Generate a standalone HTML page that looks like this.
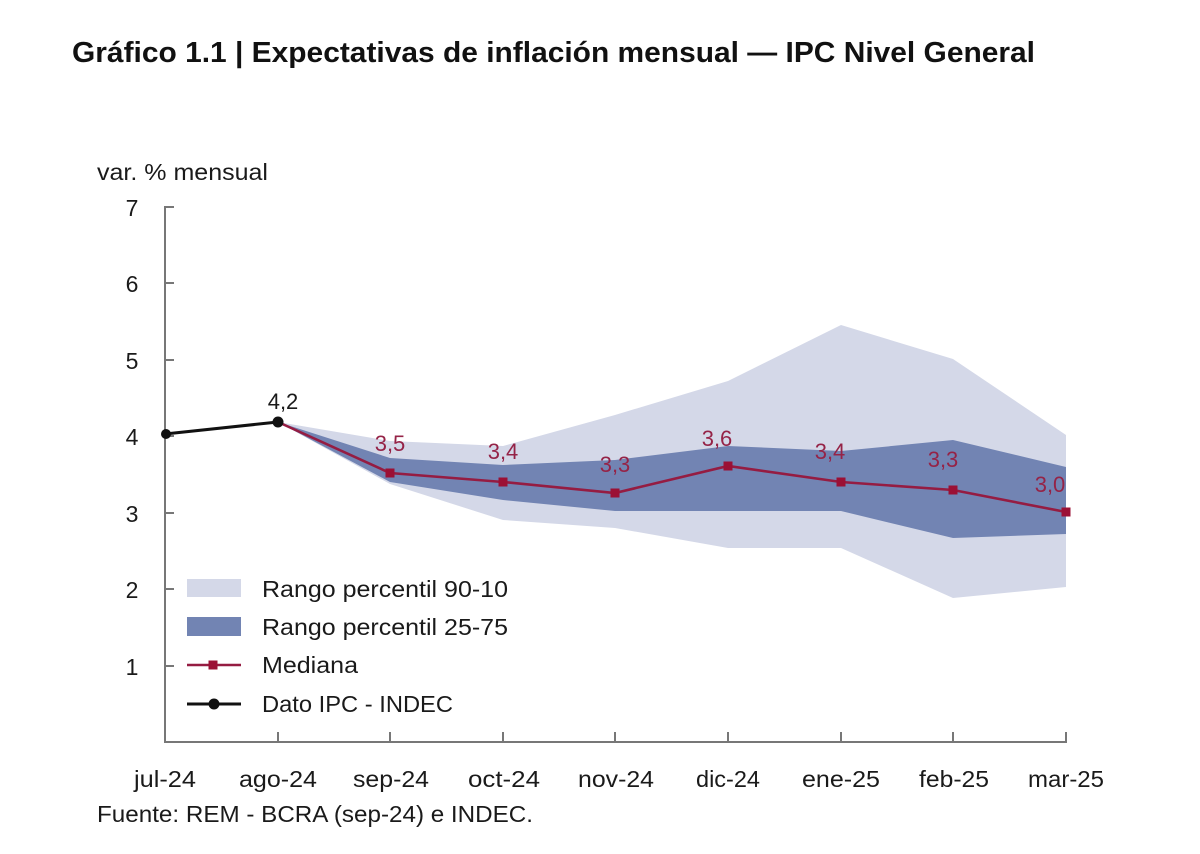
<!DOCTYPE html>
<html>
<head>
<meta charset="utf-8">
<style>
html,body{margin:0;padding:0;background:#fff;}
svg{display:block;}
text{font-family:"Liberation Sans",Arial,sans-serif;}
</style>
</head>
<body>
<svg width="1200" height="854" viewBox="0 0 1200 854" xmlns="http://www.w3.org/2000/svg">
<rect width="1200" height="854" fill="#fff"/>
<text x="72" y="62" font-size="29" font-weight="bold" fill="#111" textLength="963" lengthAdjust="spacingAndGlyphs">Gráfico 1.1 | Expectativas de inflación mensual — IPC Nivel General</text>

<text x="97" y="180" font-size="23" fill="#1a1a1a" textLength="171" lengthAdjust="spacingAndGlyphs">var. % mensual</text>

<!-- bands -->
<polygon fill="#d4d8e8" points="278,422 390,441 503,446 615,415 728,381 841,325 953,359 1066,435 1066,587 953,598 841,548 728,548 615,528 503,520 390,484"/>
<polygon fill="#7284b3" points="278,422 390,458 503,465 615,460 728,446 841,451 953,440 1066,467 1066,534 953,538 841,511 728,511 615,511 503,500 390,482"/>

<!-- axes -->
<g stroke="#777" stroke-width="2" fill="none">
<line x1="165" y1="206" x2="165" y2="743"/>
<line x1="164" y1="742" x2="1067" y2="742"/>
<line x1="165" y1="207" x2="174" y2="207"/>
<line x1="165" y1="283" x2="174" y2="283"/>
<line x1="165" y1="360" x2="174" y2="360"/>
<line x1="165" y1="436" x2="174" y2="436"/>
<line x1="165" y1="513" x2="174" y2="513"/>
<line x1="165" y1="589" x2="174" y2="589"/>
<line x1="165" y1="666" x2="174" y2="666"/>
<line x1="278" y1="742" x2="278" y2="732"/>
<line x1="390" y1="742" x2="390" y2="732"/>
<line x1="503" y1="742" x2="503" y2="732"/>
<line x1="615" y1="742" x2="615" y2="732"/>
<line x1="728" y1="742" x2="728" y2="732"/>
<line x1="841" y1="742" x2="841" y2="732"/>
<line x1="953" y1="742" x2="953" y2="732"/>
<line x1="1066" y1="742" x2="1066" y2="732"/>
</g>

<!-- y labels -->
<g font-size="23" fill="#1a1a1a" text-anchor="middle">
<text x="132" y="216">7</text>
<text x="132" y="292">6</text>
<text x="132" y="369">5</text>
<text x="132" y="445">4</text>
<text x="132" y="522">3</text>
<text x="132" y="598">2</text>
<text x="132" y="675">1</text>
</g>

<!-- x labels -->
<g font-size="23" fill="#1a1a1a" text-anchor="middle">
<text x="165" y="787" textLength="62" lengthAdjust="spacingAndGlyphs">jul-24</text>
<text x="278" y="787" textLength="78" lengthAdjust="spacingAndGlyphs">ago-24</text>
<text x="391" y="787" textLength="76" lengthAdjust="spacingAndGlyphs">sep-24</text>
<text x="504" y="787" textLength="72" lengthAdjust="spacingAndGlyphs">oct-24</text>
<text x="616" y="787" textLength="76" lengthAdjust="spacingAndGlyphs">nov-24</text>
<text x="728" y="787" textLength="64" lengthAdjust="spacingAndGlyphs">dic-24</text>
<text x="841" y="787" textLength="78" lengthAdjust="spacingAndGlyphs">ene-25</text>
<text x="954" y="787" textLength="70" lengthAdjust="spacingAndGlyphs">feb-25</text>
<text x="1066" y="787" textLength="76" lengthAdjust="spacingAndGlyphs">mar-25</text>
</g>

<text x="97" y="822" font-size="23" fill="#1a1a1a" textLength="436" lengthAdjust="spacingAndGlyphs">Fuente: REM - BCRA (sep-24) e INDEC.</text>

<!-- IPC line -->
<polyline points="165,434 278,422" fill="none" stroke="#111" stroke-width="3"/>
<!-- median -->
<polyline points="278,422 390,473 503,482 615,493 728,466 841,482 953,490 1066,512" fill="none" stroke="#951c42" stroke-width="2.6"/>
<g fill="#9b1035">
<rect x="385.5" y="468.5" width="9" height="9"/>
<rect x="498.5" y="477.5" width="9" height="9"/>
<rect x="610.5" y="488.5" width="9" height="9"/>
<rect x="723.5" y="461.5" width="9" height="9"/>
<rect x="836.5" y="477.5" width="9" height="9"/>
<rect x="948.5" y="485.5" width="9" height="9"/>
<rect x="1061.5" y="507.5" width="9" height="9"/>
</g>
<circle cx="278" cy="422" r="5.5" fill="#111"/>
<circle cx="166" cy="434" r="5" fill="#111"/>

<!-- value labels -->
<text x="283" y="409" font-size="22" fill="#1a1a1a" text-anchor="middle">4,2</text>
<g font-size="22" fill="#952347" text-anchor="middle">
<text x="390" y="451">3,5</text>
<text x="503" y="459">3,4</text>
<text x="615" y="472">3,3</text>
<text x="717" y="446">3,6</text>
<text x="830" y="459">3,4</text>
<text x="943" y="467">3,3</text>
<text x="1050" y="492">3,0</text>
</g>

<!-- legend -->
<rect x="187" y="579" width="54" height="18" fill="#d4d8e8"/>
<rect x="187" y="617" width="54" height="19" fill="#7284b3"/>
<line x1="187" y1="665" x2="241" y2="665" stroke="#951c42" stroke-width="2.6"/>
<rect x="208.5" y="660.5" width="9" height="9" fill="#9b1035"/>
<line x1="187" y1="704" x2="241" y2="704" stroke="#111" stroke-width="3"/>
<circle cx="214" cy="704" r="5.5" fill="#111"/>
<g font-size="23" fill="#1a1a1a">
<text x="262" y="597" textLength="246" lengthAdjust="spacingAndGlyphs">Rango percentil 90-10</text>
<text x="262" y="635" textLength="246" lengthAdjust="spacingAndGlyphs">Rango percentil 25-75</text>
<text x="262" y="673" textLength="96" lengthAdjust="spacingAndGlyphs">Mediana</text>
<text x="262" y="712" textLength="191" lengthAdjust="spacingAndGlyphs">Dato IPC - INDEC</text>
</g>
</svg>
</body>
</html>
